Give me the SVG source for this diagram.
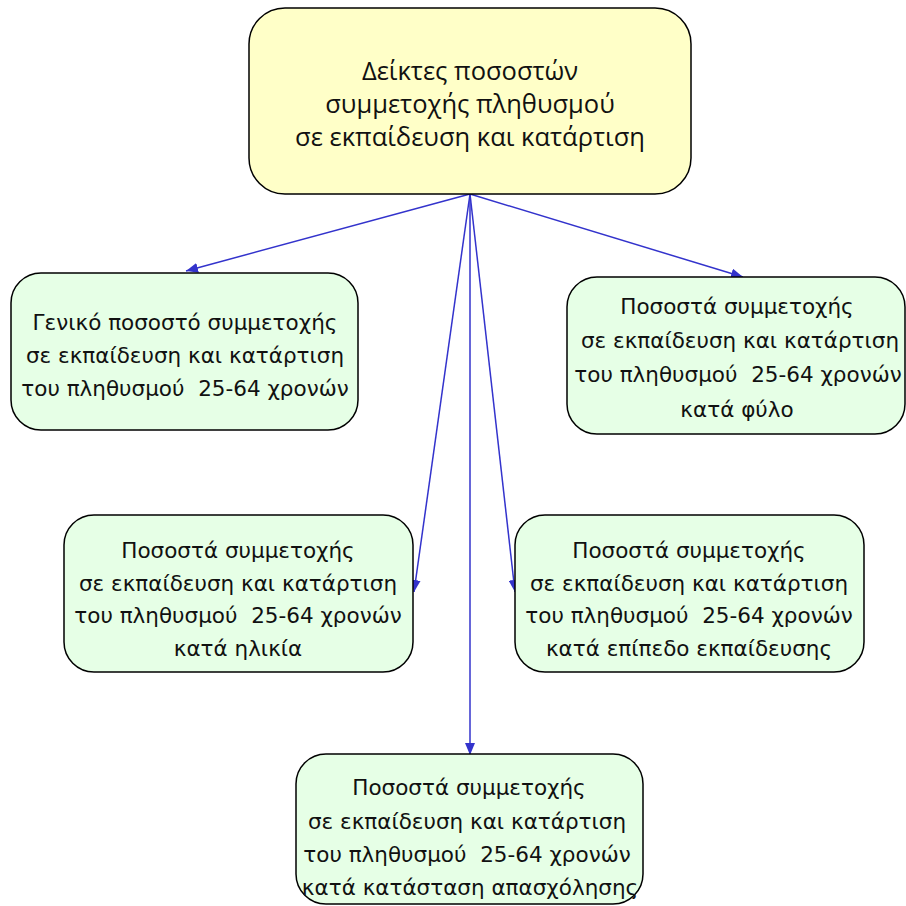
<svg xmlns="http://www.w3.org/2000/svg" width="906" height="906" viewBox="0 0 906 906">
<style>
.box{fill:#e6ffe6;stroke:#000;stroke-width:1.5}
.top{fill:#ffffc8;stroke:#000;stroke-width:1.5}
.t{font-family:"DejaVu Sans",sans-serif;font-size:21.5px;fill:#111;text-anchor:middle;white-space:pre}
.tt{font-family:"Open Sans","Liberation Sans",sans-serif;font-size:25.5px;fill:#111;text-anchor:middle}
.c{stroke:#3333cc;stroke-width:1.5;fill:none;marker-end:url(#a)}
</style>
<defs>
<marker id="a" viewBox="0 0 12 10" refX="12" refY="5" markerWidth="12" markerHeight="10" markerUnits="userSpaceOnUse" orient="auto">
<path d="M0,0 L12,5 L0,10 Z" fill="#3333cc"/>
</marker>
</defs>
<g id="connectors">
<line class="c" x1="470" y1="194" x2="186" y2="271"/>
<line class="c" x1="470" y1="194" x2="743" y2="277"/>
<line class="c" x1="470" y1="194" x2="414" y2="592"/>
<line class="c" x1="470" y1="194" x2="515" y2="592"/>
<line class="c" x1="470" y1="194" x2="470" y2="755"/>
</g>
<g id="root">
<rect class="top" x="249" y="8" width="442" height="186" rx="36"/>
<text class="tt" x="470" y="80">Δείκτες ποσοστών</text>
<text class="tt" x="470" y="113">συμμετοχής πληθυσμού</text>
<text class="tt" x="470" y="146">σε εκπαίδευση και κατάρτιση</text>
</g>
<g id="n1">
<rect class="box" x="11" y="273" width="347" height="157" rx="30"/>
<text class="t" x="185" y="330">Γενικό ποσοστό συμμετοχής</text>
<text class="t" x="185" y="363">σε εκπαίδευση και κατάρτιση</text>
<text class="t" x="185" y="396">του πληθυσμού  25-64 χρονών</text>
</g>
<g id="n2">
<rect class="box" x="567" y="277" width="338" height="157" rx="30"/>
<text class="t" x="737" y="314">Ποσοστά συμμετοχής</text>
<text class="t" x="740" y="348">σε εκπαίδευση και κατάρτιση</text>
<text class="t" x="738" y="382">του πληθυσμού  25-64 χρονών</text>
<text class="t" x="737" y="417">κατά φύλο</text>
</g>
<g id="n3">
<rect class="box" x="64" y="515" width="349" height="157" rx="30"/>
<text class="t" x="238" y="558">Ποσοστά συμμετοχής</text>
<text class="t" x="238" y="591">σε εκπαίδευση και κατάρτιση</text>
<text class="t" x="238" y="623">του πληθυσμού  25-64 χρονών</text>
<text class="t" x="238" y="656">κατά ηλικία</text>
</g>
<g id="n4">
<rect class="box" x="515" y="515" width="349" height="157" rx="30"/>
<text class="t" x="689" y="558">Ποσοστά συμμετοχής</text>
<text class="t" x="689" y="591">σε εκπαίδευση και κατάρτιση</text>
<text class="t" x="689" y="623">του πληθυσμού  25-64 χρονών</text>
<text class="t" x="689" y="656">κατά επίπεδο εκπαίδευσης</text>
</g>
<g id="n5">
<rect class="box" x="296" y="754" width="347" height="150" rx="30"/>
<text class="t" x="469" y="795">Ποσοστά συμμετοχής</text>
<text class="t" x="467" y="829">σε εκπαίδευση και κατάρτιση</text>
<text class="t" x="467" y="862">του πληθυσμού  25-64 χρονών</text>
<text class="t" x="470" y="895">κατά κατάσταση απασχόλησης</text>
</g>
</svg>
